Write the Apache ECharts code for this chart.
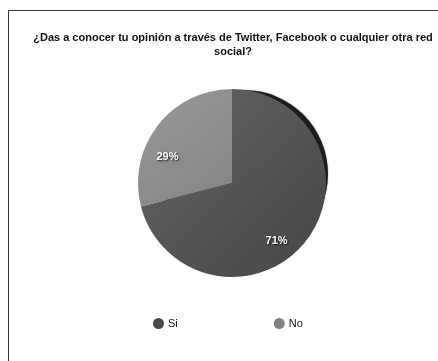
<!DOCTYPE html>
<html>
<head>
<meta charset="utf-8">
<script src="https://cdn.jsdelivr.net/npm/echarts@6/dist/echarts.min.js"></script>
<style>
  html, body { margin: 0; padding: 0; background: #ffffff; }
  #chart { width: 438px; height: 361px; }
</style>
</head>
<body>
<div id="chart"></div>
<script>
// Survey answers and their shares (percent)
const categories = ['Si', 'No'];
const shares = [71, 29];
const sliceColors = [
  ['#646464', '#464646'],
  ['#989898', '#848484']
];
const legendColors = ['#4a4a4a', '#828282'];
const titleText = '¿Das a conocer tu opinión a través de Twitter, Facebook o cualquier otra red\nsocial?';

const chart = echarts.init(document.getElementById('chart'), null, { renderer: 'canvas' });

const pieData = categories.map((name, i) => ({
  name: name,
  value: shares[i],
  itemStyle: {
    color: new echarts.graphic.LinearGradient(0, 0, 1, 1, [
      { offset: 0, color: sliceColors[i][0] },
      { offset: 1, color: sliceColors[i][1] }
    ])
  }
}));

const labelData = categories.map((name, i) => ({ name: name, value: shares[i] }));

const option = {
  backgroundColor: '#ffffff',
  animation: false,
  title: {
    text: titleText,
    left: 228,
    top: 26,
    textAlign: 'center',
    textStyle: {
      fontFamily: 'Liberation Sans',
      fontSize: 11,
      fontWeight: 'bold',
      color: '#111111',
      lineHeight: 14
    }
  },
  legend: {
    left: 148,
    top: 313,
    itemGap: 96,
    icon: 'circle',
    itemWidth: 11,
    itemHeight: 11,
    textStyle: { fontFamily: 'Liberation Sans', fontSize: 11, color: '#111111', padding: [0, 0, 0, -1] },
    data: categories.map((name, i) => ({ name: name, itemStyle: { color: legendColors[i] } }))
  },
  graphic: [{
    type: 'rect',
    shape: { x: 8.5, y: 10.5, width: 600, height: 600 },
    style: { fill: 'none', stroke: '#333333', lineWidth: 1 },
    silent: true,
    z: 100
  }],
  series: [
    {
      // dark rim along the upper-right edge of the disc
      type: 'pie',
      silent: true,
      center: [244, 174],
      radius: 84,
      startAngle: 90,
      label: { show: false },
      labelLine: { show: false },
      legendHoverLink: false,
      itemStyle: { color: '#1c1c1c', shadowColor: 'rgba(0,0,0,0.35)', shadowBlur: 2 },
      data: [{ name: '', value: 1 }],
      z: 1
    },
    {
      type: 'pie',
      center: [232, 183],
      radius: 94,
      startAngle: 90,
      clockwise: true,
      label: { show: false },
      labelLine: { show: false },
      itemStyle: { borderWidth: 0 },
      data: pieData,
      z: 2
    },
    {
      // percentage labels
      type: 'pie',
      silent: true,
      center: [222, 199],
      radius: [42, 90],
      startAngle: 90,
      clockwise: true,
      itemStyle: { color: 'rgba(0,0,0,0)' },
      labelLine: { show: false },
      label: {
        show: true,
        position: 'inside',
        formatter: '{c}%',
        fontFamily: 'Liberation Sans',
        fontSize: 11,
        fontWeight: 'bold',
        color: '#ffffff',
        textShadowColor: 'rgba(0,0,0,0.85)',
        textShadowBlur: 2,
        textShadowOffsetX: 1,
        textShadowOffsetY: 1
      },
      data: labelData,
      z: 3
    }
  ]
};

chart.setOption(option);
</script>
</body>
</html>
